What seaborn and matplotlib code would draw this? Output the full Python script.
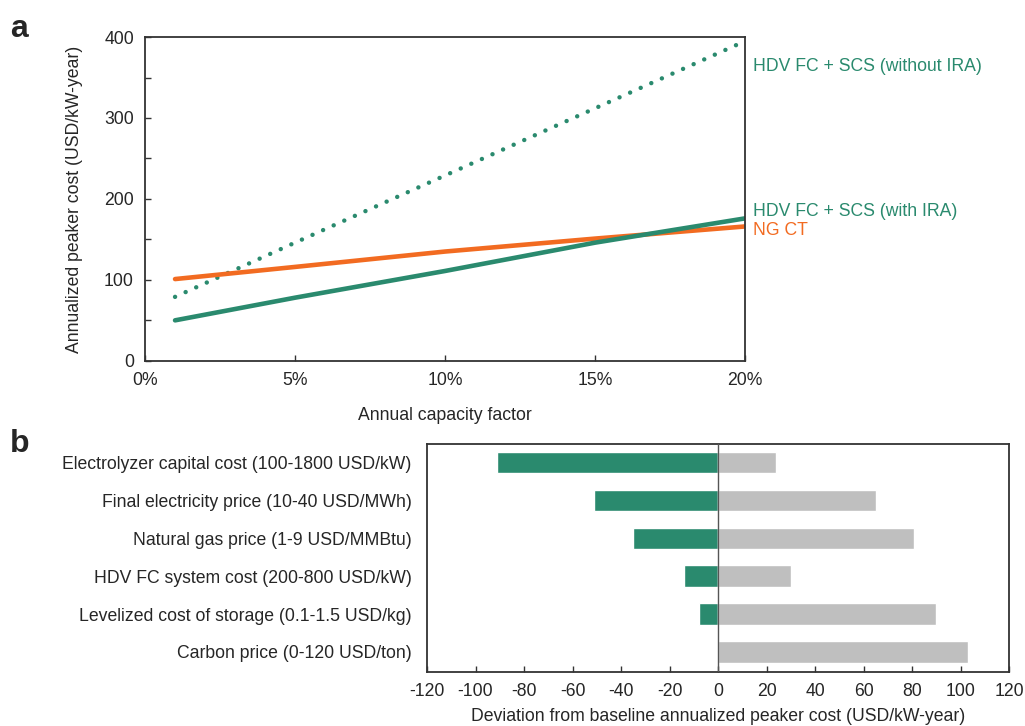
import pandas as pd
import matplotlib
matplotlib.use("Agg")
import matplotlib.pyplot as plt
import seaborn as sns
from matplotlib.ticker import MultipleLocator, FuncFormatter

# panel a: annualized peaker cost vs capacity factor
capacity_factor = [1, 5, 10, 15, 20]
hdv_no_ira = [79, 146, 229, 312, 395]
hdv_ira = [50, 78, 111, 146, 176]
ng_ct = [101, 116, 135, 151, 166]

# panel b: sensitivity (tornado)
params = [
    "Electrolyzer capital cost (100-1800 USD/kW)",
    "Final electricity price (10-40 USD/MWh)",
    "Natural gas price (1-9 USD/MMBtu)",
    "HDV FC system cost (200-800 USD/kW)",
    "Levelized cost of storage (0.1-1.5 USD/kg)",
    "Carbon price (0-120 USD/ton)",
]
low_dev = [-91, -51, -35, -14, -8, 0]
high_dev = [24, 65, 81, 30, 90, 103]

green = "#2a8a6e"
orange = "#f26b21"
grey = "#bfbfbf"
fs = 12.7

sns.set_theme(style="white")
plt.rcParams["font.family"] = ["Liberation Sans", "DejaVu Sans"]
plt.rcParams["font.size"] = fs
plt.rcParams["axes.unicode_minus"] = False

fig = plt.figure(figsize=(10.25, 7.26), dpi=100)
ax1 = fig.add_axes([0.1415, 0.503, 0.5855, 0.446])
ax2 = fig.add_axes([0.4166, 0.0744, 0.5678, 0.314])

df = pd.DataFrame({"cf": capacity_factor, "no_ira": hdv_no_ira,
                   "ira": hdv_ira, "ng": ng_ct})

sns.lineplot(data=df, x="cf", y="no_ira", color=green, lw=3.2, ax=ax1)
sns.lineplot(data=df, x="cf", y="ng", color=orange, lw=3.3, ax=ax1)
sns.lineplot(data=df, x="cf", y="ira", color=green, lw=3.3, ax=ax1)
dotted = ax1.lines[0]
dotted.set_linestyle((0, (0.01, 2.6)))
dotted.set_dash_capstyle("round")

ax1.set_xlim(0, 20)
ax1.set_ylim(0, 400)
ax1.xaxis.set_major_locator(MultipleLocator(5))
ax1.xaxis.set_major_formatter(FuncFormatter(lambda v, p: f"{v:.0f}%"))
ax1.yaxis.set_major_locator(MultipleLocator(100))
ax1.yaxis.set_minor_locator(MultipleLocator(50))
ax1.tick_params(axis="both", which="both", direction="in", length=4,
                width=1, color="#333333", labelsize=fs, pad=8,
                bottom=True, left=True)
ax1.tick_params(axis="y", which="minor", length=4)
ax1.set_xlabel("Annual capacity factor", fontsize=fs, labelpad=13)
ax1.set_ylabel("Annualized peaker cost (USD/kW-year)", fontsize=fs, labelpad=15)
for s in ax1.spines.values():
    s.set_color("#333333")
    s.set_linewidth(1.3)

ax1.text(20.25, 363, "HDV FC + SCS (without IRA)", color=green,
         fontsize=fs, va="center", ha="left", clip_on=False)
ax1.text(20.25, 185, "HDV FC + SCS (with IRA)", color=green,
         fontsize=fs, va="center", ha="left", clip_on=False)
ax1.text(20.25, 161, "NG CT", color=orange,
         fontsize=fs, va="center", ha="left", clip_on=False)

bdf = pd.DataFrame({"param": params, "low": low_dev, "high": high_dev})
sns.barplot(data=bdf, y="param", x="low", color=green, saturation=1,
            width=0.57, orient="h", ax=ax2)
sns.barplot(data=bdf, y="param", x="high", color=grey, saturation=1,
            width=0.57, orient="h", ax=ax2)
ax2.axvline(0, color="#555555", lw=1, zorder=3)
ax2.set_xlim(-120, 120)
ax2.set_ylim(5.53, -0.49)
ax2.xaxis.set_major_locator(MultipleLocator(20))
ax2.tick_params(axis="x", direction="in", length=4, width=1, color="#333333",
                labelsize=fs, pad=8, bottom=True)
ax2.tick_params(axis="y", length=0, labelsize=fs, pad=11)
ax2.set_ylabel("")
ax2.set_xlabel("Deviation from baseline annualized peaker cost (USD/kW-year)",
               fontsize=fs, labelpad=6)
for s in ax2.spines.values():
    s.set_color("#333333")
    s.set_linewidth(1.3)

fig.text(0.010, 0.960, "a", fontsize=23, fontweight="bold", va="center")
fig.text(0.010, 0.388, "b", fontsize=23, fontweight="bold", va="center")

fig.savefig("out.png", dpi=100)
